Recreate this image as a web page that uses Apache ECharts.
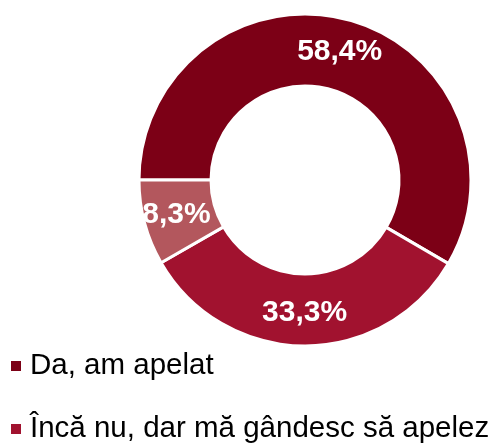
<!DOCTYPE html>
<html>
<head>
<meta charset="utf-8">
<script src="https://cdn.jsdelivr.net/npm/echarts@6/dist/echarts.min.js"></script>
<style>
  html, body { margin: 0; padding: 0; background: #ffffff; }
  #chart { width: 489px; height: 443px; }
</style>
</head>
<body>
<div id="chart"></div>
<script>
// Answer categories and their shares (%)
const categories = ['Da, am apelat', 'Încă nu, dar mă gândesc să apelez', 'Nu am apelat'];
const shares = [58.4, 33.3, 8.3];
const colors = ['#7c0016', '#a1122f', '#b3575d'];
// Legend entries shown under the ring, one per row
const legendItems = ['Da, am apelat', 'Încă nu, dar mă gândesc să apelez'];
const legendTops = [351, 414];

const fontFamily = '"Liberation Sans", Arial, sans-serif';

const chart = echarts.init(document.getElementById('chart'), null, { renderer: 'canvas' });

const legendRow = (name, top) => ({
  data: [name],
  orient: 'vertical',
  left: 11,
  top: top,
  padding: 0,
  icon: 'rect',
  itemWidth: 10,
  itemHeight: 10,
  itemStyle: { borderWidth: 0 },
  textStyle: {
    fontFamily: fontFamily,
    fontSize: 29.5,
    color: '#000000',
    lineHeight: 30,
    padding: [0, 0, 0, 4]
  }
});

chart.setOption({
  backgroundColor: '#ffffff',
  animation: false,
  color: colors,
  legend: legendItems.map((name, i) => legendRow(name, legendTops[i])),
  series: [{
    type: 'pie',
    center: [305, 180],
    radius: [94, 166],
    startAngle: 180,
    clockwise: true,
    avoidLabelOverlap: false,
    itemStyle: {
      borderColor: '#ffffff',
      borderWidth: 3
    },
    label: {
      show: true,
      position: 'inside',
      formatter: p => p.value.toFixed(1).replace('.', ',') + '%',
      color: '#ffffff',
      fontFamily: fontFamily,
      fontWeight: 'bold',
      fontSize: 30
    },
    labelLine: { show: false },
    emphasis: { disabled: true },
    data: categories.map((name, i) => ({ name: name, value: shares[i] }))
  }]
});
</script>
</body>
</html>
